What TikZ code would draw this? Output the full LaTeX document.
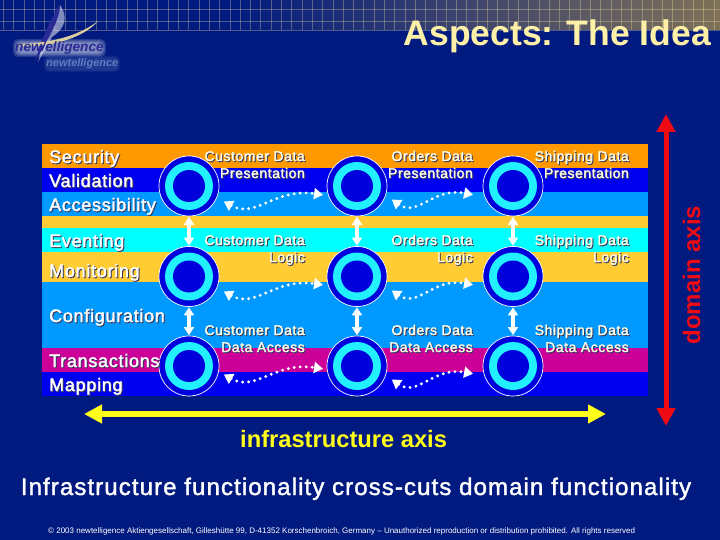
\documentclass[tikz,border=0pt]{standalone}
\usepackage{fontspec}
\setmainfont{Liberation Sans}
\newfontfamily\spreadfont[LetterSpace=4.6,FakeBold=1.6]{Liberation Sans}
\newfontfamily\labelfont[LetterSpace=4,FakeBold=2]{Liberation Sans}
\usetikzlibrary{arrows.meta,calc,shadings}
\definecolor{bgblue}{HTML}{001A80}
\definecolor{bandorange}{HTML}{FF9900}
\definecolor{bandblue}{HTML}{0000F0}
\definecolor{bandsky}{HTML}{0099FF}
\definecolor{bandamber}{HTML}{FFCC33}
\definecolor{bandcyan}{HTML}{00FFFF}
\definecolor{bandmag}{HTML}{CC0099}
\definecolor{ringblue}{HTML}{0000DC}
\definecolor{ringcyan}{HTML}{22F0FF}
\definecolor{titlecol}{HTML}{FFF0A8}
\definecolor{axisyellow}{HTML}{FFFF19}
\definecolor{axisred}{HTML}{F00A14}
\definecolor{shadecol}{HTML}{3A3A60}
\definecolor{tan}{HTML}{7F7158}
\definecolor{logoblue}{HTML}{2A2A96}
\definecolor{logofaint}{HTML}{5F7DBE}
\definecolor{creamtext}{HTML}{FFFFE6}
\newcommand{\fsz}[1]{\fontsize{#1}{#1}\selectfont}
\newcommand{\shd}[1]{\leavevmode\rlap{\raisebox{-1pt}{\kern1pt\textcolor{shadecol}{#1}}}#1}
\tikzset{
  x=1pt,y=-1pt,
  bandrect/.style={anchor=north west,inner sep=0,minimum width=606pt,minimum height=#1},
  sidetext/.style={anchor=base west,inner sep=0,text=white,font=\fsz{18}\labelfont},
  celltext/.style={anchor=base east,inner sep=0,text=creamtext,font=\fsz{14}\labelfont},
  ringa/.style={circle,inner sep=0,minimum size=60pt,fill=ringblue,draw=white,line width=.7pt},
  ringb/.style={circle,inner sep=0,minimum size=48pt,fill=ringcyan},
  ringc/.style={circle,inner sep=0,minimum size=32pt,fill=ringblue},
  vlink/.style={white,line width=3.4pt,{Triangle[length=8pt,width=10pt]}-{Triangle[length=8pt,width=10pt]},shorten <=.5pt,shorten >=.5pt},
  dotlink/.style={white,line width=3.2pt,line cap=round,dash pattern=on 0pt off 6pt,{Triangle[length=9pt,width=11pt,sep=1pt]}-{Triangle[length=9pt,width=11pt,sep=1pt]}},
  axisline/.style={line width=6pt,{Triangle[length=18pt,width=18pt]}-{Triangle[length=18pt,width=18pt]}},
  gridln/.style={draw=titlecol,opacity=.3,line width=.7pt},
}
\begin{document}
\begin{tikzpicture}
\useasboundingbox (0,0) rectangle (720,540);
\fill[bgblue] (0,0) rectangle (720,540);
% top band with grid
\shade[left color=bgblue,right color=tan] (230,0) rectangle (720,30);
\foreach \i in {0,...,69}{\draw[gridln] ({3.3+10.3*\i},0) -- ({3.3+10.3*\i},30);}
\foreach \yy in {9.5,21,30}{\draw[gridln] (0,\yy) -- (720,\yy);}
% logo glow
\foreach \k in {0,1,2,3,4}{
  \fill[white,opacity=.13,rounded corners=5pt] ({13+\k},{39+\k}) rectangle ({106-\k},{57-\k});
}
\foreach \k in {0,1,2}{
  \fill[logofaint,opacity=.12,rounded corners=4pt] ({44+\k},{56+\k}) rectangle ({120-\k},{72-\k});
}
\fill[white,opacity=.5] (60,5) .. controls (68,16) and (66,28) .. (52,37) -- (38,62) .. controls (44,40) and (50,22) .. (60,5) -- cycle;
\fill[logoblue] (60,5) .. controls (60,14) and (55,26) .. (49,37) -- (35,62) .. controls (42,38) and (50,20) .. (60,5) -- cycle;
\fill[titlecol!70!gray] (17,44) .. controls (45,44) and (78,37) .. (98,21) .. controls (82,40) and (45,48) .. (17,46) -- cycle;
\node[anchor=base west,inner sep=0,text=logoblue,font=\fsz{13.6}\bfseries\itshape] (logotop) at (15,52) {new/elligence};
\node[anchor=base west,inner sep=0,text=logofaint,font=\fsz{11}\bfseries\itshape] (logolow) at (46,67) {newtelligence};
% title
\node[anchor=base east,inner sep=0,text=titlecol,font=\fsz{35.5}\bfseries] (title) at (711,46) {Aspects: The Idea};
% bands
\node[bandrect=24pt,fill=bandorange] (b1) at (42,144) {};
\node[bandrect=24pt,fill=bandblue] (b2) at (42,168) {};
\node[bandrect=24pt,fill=bandsky] (b3) at (42,192) {};
\node[bandrect=12pt,fill=bandamber] (b4) at (42,216) {};
\node[bandrect=24pt,fill=bandcyan] (b5) at (42,228) {};
\node[bandrect=30pt,fill=bandamber] (b6) at (42,252) {};
\node[bandrect=66pt,fill=bandsky] (b7) at (42,282) {};
\node[bandrect=24pt,fill=bandmag] (b8) at (42,348) {};
\node[bandrect=24pt,fill=bandblue] (b9) at (42,372) {};
% rings
\foreach \r/\yy in {1/186,2/276.5,3/366}{
  \foreach \c/\xx in {1/189,2/357,3/513}{
    \node[ringa] (r\r\c) at (\xx,\yy) {};
    \node[ringb] (m\r\c) at (r\r\c) {};
    \node[ringc] (i\r\c) at (r\r\c) {};
  }
}
% vertical links
\foreach \c in {1,2,3}{
  \draw[vlink] (r1\c) -- (r2\c);
  \draw[vlink] (r2\c) -- (r3\c);
}
% dotted links
\coordinate (a11) at (223,201); \coordinate (e11) at (324,195);
\coordinate (a12) at (391,199); \coordinate (e12) at (474,195);
\coordinate (a21) at (223,291); \coordinate (e21) at (324,285);
\coordinate (a22) at (391,290); \coordinate (e22) at (474,285);
\coordinate (a31) at (223,374); \coordinate (e31) at (324,369);
\coordinate (a32) at (391,379); \coordinate (e32) at (474,374);
\foreach \n in {11,12,21,22,31,32}{
  \draw[dotlink] (a\n) .. controls ($(a\n)!.32!(e\n)+(0,20)$) and ($(a\n)!.51!(e\n)+(0,-10)$) .. (e\n);
}
% side labels
\node[sidetext] (s1) at (49,163) {\shd{Security}};
\node[sidetext] (s2) at (49,187) {\shd{Validation}};
\node[sidetext] (s3) at (49,211) {\shd{Accessibility}};
\node[sidetext] (s4) at (49,247) {\shd{Eventing}};
\node[sidetext] (s5) at (49,277) {\shd{Monitoring}};
\node[sidetext] (s6) at (49,322) {\shd{Configuration}};
\node[sidetext] (s7) at (49,367) {\shd{Transactions}};
\node[sidetext] (s8) at (49,391) {\shd{Mapping}};
% cell labels
\foreach \c/\xx/\nm in {1/305/Customer,2/473/Orders,3/629/Shipping}{
  \node[celltext] (pa\c) at (\xx,161) {\shd{\nm{} Data}};
  \node[celltext] (pb\c) at (\xx,178) {\shd{Presentation}};
  \node[celltext] (la\c) at (\xx,245) {\shd{\nm{} Data}};
  \node[celltext] (lb\c) at (\xx,262) {\shd{Logic}};
  \node[celltext] (da\c) at (\xx,335) {\shd{\nm{} Data}};
  \node[celltext] (db\c) at (\xx,352) {\shd{Data Access}};
}
% axes
\coordinate (xl) at (84,414); \coordinate (xr) at (606,414);
\coordinate (yt) at (666,114); \coordinate (yb) at (666,426);
\draw[axisline,axisyellow] (xl) -- (xr);
\draw[axisline,axisred,line width=5pt] (yt) -- (yb);
\node[anchor=base west,inner sep=0,text=axisyellow,font=\fsz{23.7}\bfseries] (xlab) at (240,447) {infrastructure axis};
\node[anchor=base,rotate=90,inner sep=0,text=axisred,font=\fsz{24}\bfseries] (ylab) at (700,275) {domain axis};
% bottom
\node[anchor=base,inner sep=0,text=white,font=\fsz{24}\spreadfont] (msg) at (356,495) {Infrastructure functionality cross-cuts domain functionality};
\node[anchor=base west,inner sep=0,text=white,font=\fsz{8}] (copy) at (48,533) {© 2003 newtelligence Aktiengesellschaft, Gilleshütte 99, D-41352 Korschenbroich, Germany – Unauthorized reproduction or distribution prohibited. All rights reserved};
\end{tikzpicture}
\end{document}
